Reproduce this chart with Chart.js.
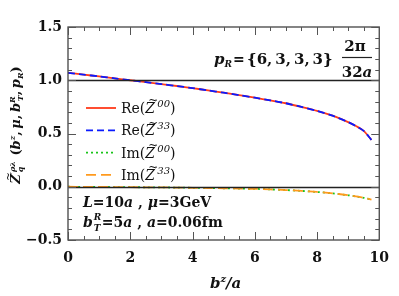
<!DOCTYPE html>
<html><head><meta charset="utf-8">
<script src="https://cdn.jsdelivr.net/npm/chart.js@4"></script>
<style>html,body{margin:0;padding:0;background:#fff}#wrap{width:399px;height:296px;position:relative}</style>
</head><body><div id="wrap"><canvas id="c"></canvas></div>
<script>
const bz = [0,0.5,1,1.5,2,2.5,3,3.5,4,4.5,5,5.5,6,6.5,7,7.5,8,8.5,9,9.25,9.5,9.75];
const reZ00 = [1.070,1.053,1.036,1.018,1.000,0.982,0.964,0.946,0.926,0.905,0.883,0.860,0.836,0.811,0.784,0.750,0.713,0.667,0.607,0.570,0.525,0.440];
const reZ33 = [1.070,1.053,1.036,1.018,1.000,0.982,0.964,0.946,0.926,0.905,0.883,0.860,0.836,0.811,0.784,0.750,0.713,0.667,0.607,0.570,0.525,0.440];
const imZ00 = [0.000,-0.001,-0.002,-0.003,-0.004,-0.005,-0.006,-0.008,-0.010,-0.012,-0.014,-0.017,-0.020,-0.025,-0.031,-0.039,-0.049,-0.062,-0.080,-0.091,-0.104,-0.120];
const imZ33 = [0.000,-0.001,-0.002,-0.003,-0.004,-0.005,-0.006,-0.008,-0.010,-0.012,-0.014,-0.017,-0.020,-0.025,-0.031,-0.039,-0.049,-0.062,-0.080,-0.091,-0.104,-0.120];
const xTicks = [0,2,4,6,8,10];
const yTicks = [-0.5,0,0.5,1,1.5];
const refLines = [1.0, 0.0];

const SERIF = '"DejaVu Serif", "Liberation Serif", serif';
const pts = (ys) => bz.map((x,i)=>({x:x,y:ys[i]}));

function font(g){const st=g.st||'r';let f='';if(st.includes('i'))f+='italic ';if(st.includes('b'))f+='bold ';return f+(g.s)+'px '+SERIF;}
function richWidth(ctx, segs){let w=0;for(const g of segs){ctx.font=font(g);w+=ctx.measureText(g.t).width+(g.sp||0);}return w;}
function drawRich(ctx, segs, x, y){
  let cx=x;
  for(const g of segs){
    ctx.font=font(g);
    ctx.fillText(g.t, cx, y+(g.dy||0));
    if(g.tilde){ctx.save();ctx.font=(g.s*0.8)+'px '+SERIF;ctx.fillText('~', cx+g.s*0.22, y-g.s*0.62);ctx.restore();}
    cx+=ctx.measureText(g.t).width+(g.sp||0);
  }
  return cx-x;
}

const overlay = {
  id:'overlay',
  afterDatasetsDraw(chart){
    const {ctx, chartArea:a, scales:{x,y}} = chart;
    ctx.save();
    ctx.strokeStyle='#222';ctx.lineWidth=1.3;
    for(const v of refLines){const py=Math.round(y.getPixelForValue(v))+0.5;ctx.beginPath();ctx.moveTo(a.left,py);ctx.lineTo(a.right,py);ctx.stroke();}
    ctx.strokeStyle='#444';ctx.lineWidth=1.3;
    ctx.strokeRect(a.left,a.top,a.right-a.left,a.bottom-a.top);
    ctx.strokeStyle='#555';ctx.lineWidth=1;
    for(let k=0;k<=20;k++){
      const v=k/2; const px=Math.round(x.getPixelForValue(v))+0.5; const major=(k%4===0); const L=major?8:4;
      ctx.beginPath();ctx.moveTo(px,a.bottom);ctx.lineTo(px,a.bottom-L);ctx.moveTo(px,a.top);ctx.lineTo(px,a.top+L);ctx.stroke();
    }
    for(let k=-5;k<=15;k++){
      const v=k/10; const py=Math.round(y.getPixelForValue(v))+0.5; const major=(k%5===0); const L=major?8:4;
      ctx.beginPath();ctx.moveTo(a.left,py);ctx.lineTo(a.left+L,py);ctx.moveTo(a.right,py);ctx.lineTo(a.right-L,py);ctx.stroke();
    }
    ctx.fillStyle='#111';ctx.textBaseline='alphabetic';ctx.textAlign='left';
    const leg=[
      {c:'#ff3a1a',d:[],n:'Re',sup:'00'},
      {c:'#0a1aff',d:[7,4],n:'Re',sup:'33'},
      {c:'#19c419',d:[2,3],n:'Im',sup:'00'},
      {c:'#ff9a1e',d:[10,5],n:'Im',sup:'33'}
    ];
    const ly0=108, ldy=22.3;
    leg.forEach((e,i)=>{
      const yy=ly0+i*ldy;
      ctx.save();ctx.strokeStyle=e.c;ctx.lineWidth=1.8;ctx.setLineDash(e.d);
      ctx.beginPath();ctx.moveTo(86,yy);ctx.lineTo(116,yy);ctx.stroke();ctx.restore();
      ctx.fillStyle='#111';
      drawRich(ctx,[{t:e.n+'(',st:'r',s:14},{t:'Z',st:'i',s:14,tilde:true},{t:'\u2032'+e.sup,st:'i',s:10,dy:-6},{t:')',st:'r',s:14}],121,yy+5);
    });
    // p_R annotation
    ctx.fillStyle='#111';
    drawRich(ctx,[{t:'p',st:'bi',s:15},{t:'R',st:'bi',s:9,dy:3}],214,64);
    ctx.font='bold 14px '+SERIF;
    ctx.fillText('=',233,64);
    ctx.font='bold 15px '+SERIF;
    ctx.fillText('{6,\u20093,\u20093,\u20093}',247,64,90);
    ctx.strokeStyle='#222';ctx.lineWidth=1.2;ctx.beginPath();ctx.moveTo(342,57.5);ctx.lineTo(372,57.5);ctx.stroke();
    ctx.textAlign='center';
    ctx.font='bold 15px '+SERIF;ctx.fillText('2\u03c0',355,51);
    ctx.textAlign='left';
    const f32=[{t:'32',st:'b',s:15},{t:'a',st:'bi',s:15}];
    const w32=richWidth(ctx,f32);
    drawRich(ctx,f32,357-w32/2,77);
    drawRich(ctx,[{t:'L',st:'bi',s:14},{t:'=10',st:'b',s:14},{t:'a',st:'bi',s:14},{t:' , ',st:'b',s:14},{t:'\u03bc',st:'bi',s:14},{t:'=3GeV',st:'b',s:14}],83,207);
    ctx.font='bold italic 14px '+SERIF;ctx.fillText('b',83,227);
    const bw=ctx.measureText('b').width;
    ctx.font='bold italic 9px '+SERIF;ctx.fillText('R',83+bw+1,220);ctx.fillText('T',83+bw+1,231);
    drawRich(ctx,[{t:'=5',st:'b',s:14},{t:'a',st:'bi',s:14},{t:' , ',st:'b',s:14},{t:'a',st:'bi',s:14},{t:'=0.06fm',st:'b',s:14}],83+bw+9,227);
    const xt=[{t:'b',st:'bi',s:15},{t:'z',st:'bi',s:10,dy:-6},{t:'/',st:'bi',s:15},{t:'a',st:'bi',s:15}];
    const xw=richWidth(ctx,xt);
    drawRich(ctx,xt,(a.left+a.right)/2-xw/2+2,288);
    ctx.save();
    ctx.translate(20,125);ctx.rotate(-Math.PI/2);
    const yt=[{t:'Z',st:'bi',s:13,tilde:true},{t:'\u2032\u03c1\u03bb',st:'bi',s:8,dy:-5,sp:-11},{t:'q',st:'bi',s:8,dy:3,sp:11},
      {t:'(',st:'b',s:13},{t:'b',st:'bi',s:13},{t:'z',st:'bi',s:8,dy:-5},{t:',\u2009',st:'b',s:13},{t:'\u03bc',st:'bi',s:13},{t:',\u2009',st:'b',s:13},
      {t:'b',st:'bi',s:13},{t:'R',st:'bi',s:8,dy:-5,sp:-5},{t:'T',st:'bi',s:8,dy:3},{t:',\u2009',st:'b',s:13},{t:'p',st:'bi',s:13},{t:'R',st:'bi',s:8,dy:3},{t:')',st:'b',s:13}];
    const yw=richWidth(ctx,yt);
    drawRich(ctx,yt,-yw/2,0);
    ctx.restore();
    ctx.restore();
  }
};

new Chart(document.getElementById('c'),{
  type:'line',
  data:{datasets:[
    {label:'Re00',data:pts(reZ00),borderColor:'#ff3a1a',borderWidth:1.8,pointRadius:0,tension:0.3,fill:false,order:4},
    {label:'Re33',data:pts(reZ33),borderColor:'#0a1aff',borderWidth:1.8,borderDash:[7,4],pointRadius:0,tension:0.3,fill:false,order:3},
    {label:'Im00',data:pts(imZ00),borderColor:'#19c419',borderWidth:1.8,borderDash:[2,3],pointRadius:0,tension:0.3,fill:false,order:2},
    {label:'Im33',data:pts(imZ33),borderColor:'#ff9a1e',borderWidth:1.8,borderDash:[10,5],pointRadius:0,tension:0.3,fill:false,order:1}
  ]},
  options:{
    responsive:true,maintainAspectRatio:false,animation:false,
    layout:{padding:{top:27,right:10,left:0,bottom:0}},
    plugins:{legend:{display:false},tooltip:{enabled:false}},
    scales:{
      x:{type:'linear',min:0,max:10,
        afterFit(s){s.height=56;},
        afterBuildTicks(s){s.ticks=xTicks.map(v=>({value:v}));},
        grid:{display:false,drawTicks:false},border:{display:false},
        ticks:{padding:10,color:'#111',font:{family:SERIF,size:14,weight:'bold'},callback:v=>String(v)}},
      y:{type:'linear',min:-0.5,max:1.5,
        afterFit(s){s.width=68;},
        afterBuildTicks(s){s.ticks=yTicks.map(v=>({value:v}));},
        grid:{display:false,drawTicks:false},border:{display:false},
        ticks:{padding:6,color:'#111',font:{family:SERIF,size:14,weight:'bold'},callback:v=>v.toFixed(1).replace('-','\u2212')}}
    }
  },
  plugins:[overlay]
});
</script></body></html>
